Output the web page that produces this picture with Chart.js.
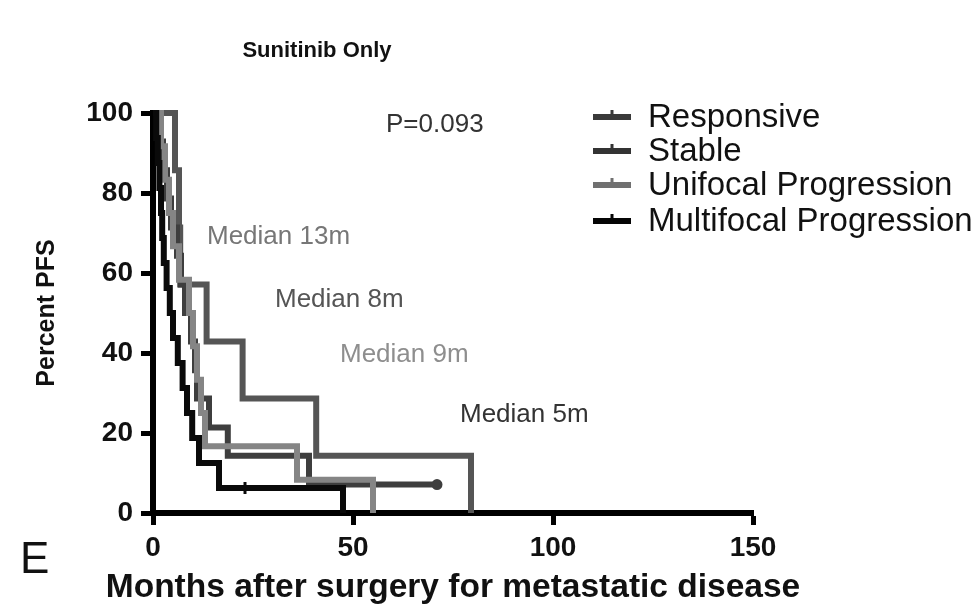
<!DOCTYPE html>
<html>
<head>
<meta charset="utf-8">
<script src="https://cdn.jsdelivr.net/npm/chart.js@4/dist/chart.umd.min.js"></script>
<style>
  html, body { margin: 0; padding: 0; background: #fff; }
  #wrap { width: 977px; height: 609px; position: relative; }
</style>
</head>
<body>
<div id="wrap"><canvas id="c" width="977" height="609"></canvas></div>
<script>
// Kaplan-Meier progression-free survival, Sunitinib only
const seriesNames = ['Responsive', 'Stable', 'Unifocal Progression', 'Multifocal Progression'];
const seriesColors = ['#555555', '#3e3e3e', '#858585', '#0a0a0a'];
const legendColors = ['#3a3a3a', '#333333', '#707070', '#050505'];

// step points: month of each event and PFS (%) after it
const respMonths  = [0, 5.5, 6.5, 6.8, 13.4, 22.4, 40.8, 79.5];
const respPFS     = [100, 85.7, 71.4, 57.1, 42.9, 28.6, 14.3, 0];

const stableMonths = [0, 1.5, 2.5, 3.5, 4.5, 6, 7, 8, 9.5, 10.5, 11, 14, 18.7, 39, 71];
const stablePFS    = [100, 92.9, 85.7, 78.6, 71.4, 64.3, 57.1, 50, 42.9, 35.7, 28.6, 21.4, 14.3, 7.1, 7.1];

const uniMonths = [0, 2, 3, 4, 5, 6.5, 9, 10, 11, 12, 13, 36, 55];
const uniPFS    = [100, 91.7, 83.3, 75, 66.7, 58.3, 50, 41.7, 33.3, 25, 16.7, 8.3, 0];

const multiMonths = [0, 0.8, 1.2, 1.6, 2.0, 2.3, 2.7, 3.4, 4.2, 5.0, 6.2, 7.4, 8.5, 9.8, 11.5, 16.5, 47.5];
const multiPFS    = [100, 93.75, 87.5, 81.25, 75, 68.75, 62.5, 56.25, 50, 43.75, 37.5, 31.25, 25, 18.75, 12.5, 6.25, 0];

// censored observations
const stableCensorMonths = [71];
const stableCensorPFS    = [7.1];
const multiCensorMonths  = [23];
const multiCensorPFS     = [6.25];

// annotations
const titleText = 'Sunitinib Only';
const panelLetter = 'E';
const xTitleText = 'Months after surgery for metastatic disease';
const pValueText = 'P=0.093';
const medianTexts = ['Median 13m', 'Median 8m', 'Median 9m', 'Median 5m'];
const medianColors = ['#777777', '#555555', '#8e8e8e', '#333333'];

const xTicks = [0, 50, 100, 150];
const yTicks = [0, 20, 40, 60, 80, 100];

const toXY = (xs, ys) => xs.map((x, i) => ({ x: x, y: ys[i] }));

function curve(idx, xs, ys, order) {
  return {
    label: seriesNames[idx],
    data: toXY(xs, ys),
    borderColor: seriesColors[idx],
    backgroundColor: seriesColors[idx],
    legendColor: legendColors[idx],
    borderWidth: 6,
    stepped: 'before',
    pointRadius: 0,
    fill: false,
    clip: false,
    order: order,
    isCurve: true
  };
}

function censor(idx, xs, ys, style, radius, order) {
  return {
    type: 'scatter',
    label: seriesNames[idx] + ' censored',
    data: toXY(xs, ys),
    borderColor: seriesColors[idx],
    backgroundColor: seriesColors[idx],
    pointStyle: style,
    rotation: style === 'line' ? 90 : 0,
    pointRadius: radius,
    borderWidth: 3,
    clip: false,
    order: order
  };
}

const fontFam = '"Liberation Sans", Arial, Helvetica, sans-serif';

const annotations = {
  id: 'annotations',
  afterDraw(chart) {
    const ctx = chart.ctx;
    const area = chart.chartArea;
    ctx.save();
    ctx.textBaseline = 'middle';

    // title
    ctx.fillStyle = '#111';
    ctx.font = 'bold 22px ' + fontFam;
    ctx.textAlign = 'center';
    ctx.fillText(titleText, 317, 51);

    // x-axis title
    ctx.font = 'bold 33.5px ' + fontFam;
    ctx.fillText(xTitleText, (area.left + area.right) / 2, 588);

    // panel letter
    ctx.textAlign = 'left';
    ctx.font = '44px ' + fontFam;
    ctx.fillText(panelLetter, 20, 561);

    // p-value and medians, placed relative to the plot area
    ctx.font = '26px ' + fontFam;
    ctx.fillStyle = '#333';
    ctx.fillText(pValueText, area.left + 233, area.top + 12);
    const medPos = [[54, 124], [122, 187], [187, 242], [307, 302]];
    medianTexts.forEach((t, i) => {
      ctx.fillStyle = medianColors[i];
      ctx.fillText(t, area.left + medPos[i][0], area.top + medPos[i][1]);
    });

    // legend
    ctx.font = '33px ' + fontFam;
    const legY = [117, 151, 185, 221];
    chart.data.datasets.filter(d => d.isCurve).forEach((d, i) => {
      const y = legY[i];
      ctx.strokeStyle = d.legendColor;
      ctx.lineWidth = 6;
      ctx.beginPath();
      ctx.moveTo(593, y);
      ctx.lineTo(631, y);
      ctx.stroke();
      ctx.lineWidth = 3;
      ctx.beginPath();
      ctx.moveTo(612, y);
      ctx.lineTo(612, y - 7);
      ctx.stroke();
      ctx.fillStyle = '#111';
      ctx.fillText(d.label, 648, y + 1);
    });
    ctx.restore();
  }
};

new Chart(document.getElementById('c'), {
  type: 'line',
  data: {
    datasets: [
      curve(0, respMonths, respPFS, 3),
      curve(1, stableMonths, stablePFS, 2),
      curve(2, uniMonths, uniPFS, 1),
      curve(3, multiMonths, multiPFS, 0),
      censor(1, stableCensorMonths, stableCensorPFS, 'circle', 4, 2),
      censor(3, multiCensorMonths, multiCensorPFS, 'line', 6, 0)
    ]
  },
  options: {
    responsive: false,
    animation: false,
    layout: { padding: { top: 113, right: 224, left: 0, bottom: 0 } },
    plugins: {
      legend: { display: false },
      title: { display: false },
      tooltip: { enabled: false }
    },
    scales: {
      x: {
        type: 'linear',
        min: 0,
        max: 150,
        afterBuildTicks: s => { s.ticks = xTicks.map(v => ({ value: v })); },
        afterFit: s => { s.height = 96; },
        ticks: { color: '#111', padding: 6, font: { family: fontFam, size: 28, weight: 'bold' } },
        grid: { display: true, drawOnChartArea: false, drawTicks: true, tickLength: 12, tickWidth: 5, tickColor: '#000' },
        border: { display: true, width: 6, color: '#000' }
      },
      y: {
        min: 0,
        max: 100,
        afterBuildTicks: s => { s.ticks = yTicks.map(v => ({ value: v })); },
        afterFit: s => { s.width = 153; },
        ticks: { color: '#111', padding: 8, font: { family: fontFam, size: 28, weight: 'bold' } },
        grid: { display: true, drawOnChartArea: false, drawTicks: true, tickLength: 12, tickWidth: 5, tickColor: '#000' },
        border: { display: true, width: 6, color: '#000' },
        title: { display: true, text: 'Percent PFS', color: '#111',
                 font: { family: fontFam, size: 25, weight: 'bold' }, padding: { top: 32, bottom: 0 } }
      }
    }
  },
  plugins: [annotations]
});
</script>
</body>
</html>
